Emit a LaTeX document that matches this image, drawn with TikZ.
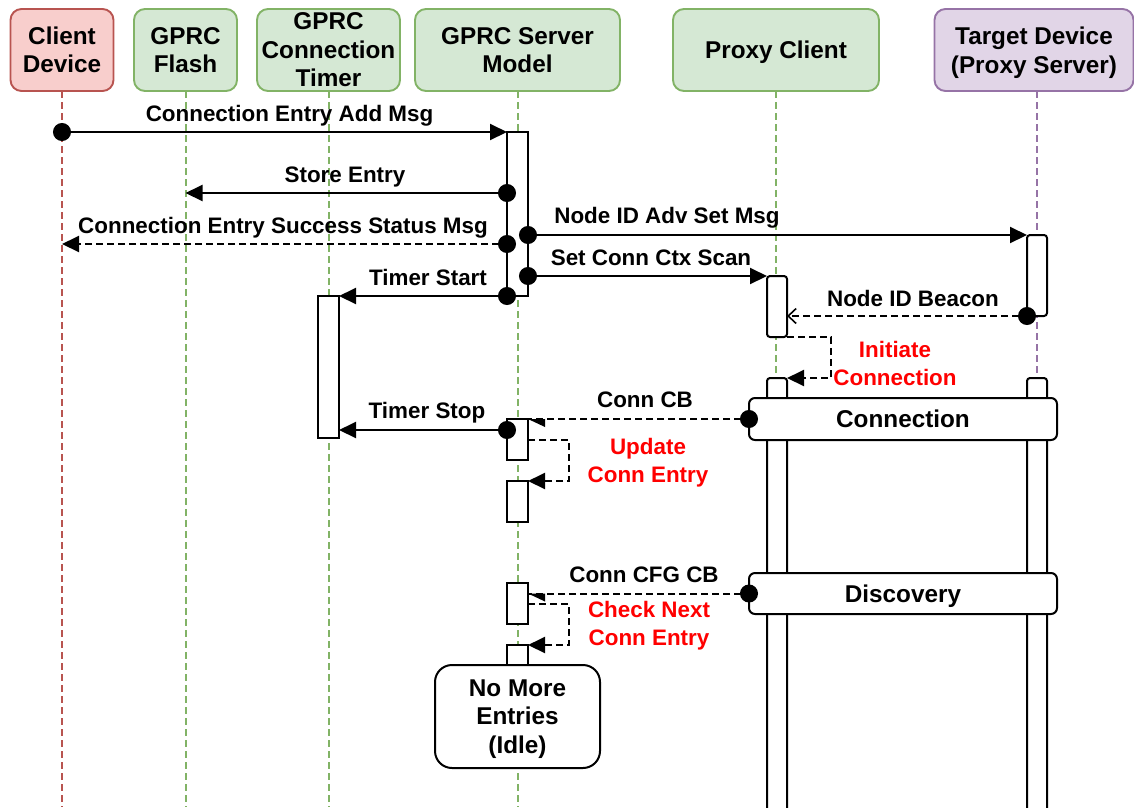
\documentclass[tikz,border=0pt]{standalone}
\usepackage{fontspec}
\setmainfont{Liberation Sans}
\usetikzlibrary{arrows.meta}
\definecolor{pinkf}{HTML}{F8CECC}
\definecolor{pinkd}{HTML}{B85450}
\definecolor{greenf}{HTML}{D5E8D4}
\definecolor{greend}{HTML}{82B366}
\definecolor{purf}{HTML}{E1D5E7}
\definecolor{purd}{HTML}{9673A6}
\definecolor{redtxt}{HTML}{FF0000}
\newcommand\hfnt{\fontsize{24.3pt}{28.6pt}\selectfont\bfseries}
\newcommand\mfnt{\fontsize{22.4pt}{27.4pt}\selectfont\bfseries}
\begin{document}
\begin{tikzpicture}[x=1pt,y=-1pt,
  hdr/.style={draw, line width=1.9pt, rounded corners=11pt, inner sep=0pt, outer sep=0pt, minimum height=82pt, align=center, font=\hfnt},
  life/.style={line width=2pt, dash pattern=on 6.5pt off 4.5pt},
  act/.style={draw, fill=white, line width=2pt, inner sep=0pt, outer sep=0pt, minimum width=21pt},
  ract/.style={act, rounded corners=3pt, minimum width=20pt},
  framebox/.style={draw, fill=white, line width=2pt, rounded corners=6pt, inner sep=0pt, outer sep=0pt, minimum width=308pt, minimum height=42pt, font=\hfnt, text height=17.7pt, text depth=0pt},
  idlebox/.style={draw, fill=white, line width=2pt, rounded corners=17pt, inner sep=0pt, outer sep=0pt, minimum width=165pt, minimum height=103pt, align=center, font=\hfnt},
  msgd/.style={line width=2pt, {Circle[length=18pt]}-{Triangle[length=17pt,width=16pt]}, shorten <=-9pt},
  msgdh/.style={line width=2pt, {Circle[length=18pt]}-, shorten <=-9pt},
  msgdo/.style={line width=2pt, {Circle[length=18pt]}-{Straight Barb[length=8pt,width=15pt,line width=1.6pt]}, shorten <=-9pt},
  selfmsg/.style={line width=2pt, -{Triangle[length=17pt,width=16pt]}},
  halftip/.style={fill=black},
  dsh/.style={dash pattern=on 7pt off 4pt},
  lbl/.style={font=\mfnt, anchor=base, inner sep=0pt},
  rlbl/.style={font=\mfnt, align=center, inner sep=0pt, text=redtxt}
]
\useasboundingbox (0,0) rectangle (1134,807);

% headers
\node[hdr, fill=pinkf, draw=pinkd, minimum width=103pt] (cd) at (62,50) {Client\\Device};
\node[hdr, fill=greenf, draw=greend, minimum width=103pt] (gf) at (185.5,50) {GPRC\\Flash};
\node[hdr, fill=greenf, draw=greend, minimum width=143pt] (gt) at (328.5,50) {GPRC\\Connection\\Timer};
\node[hdr, fill=greenf, draw=greend, minimum width=205pt] (gs) at (517.5,50) {GPRC Server\\Model};
\node[hdr, fill=greenf, draw=greend, minimum width=206pt, text depth=0pt] (pc) at (776,50) {Proxy Client};
\node[hdr, fill=purf, draw=purd, minimum width=199pt] (td) at (1034,50) {Target Device\\\smash{(Proxy Server)}};

% lifelines
\coordinate (tdl) at ([xshift=3pt]td.south);
\draw[life, draw=pinkd] (cd.south) -- (cd.south |- 0,807);
\draw[life, draw=greend] (gf.south) -- (gf.south |- 0,807);
\draw[life, draw=greend] (gt.south) -- (gt.south |- 0,807);
\draw[life, draw=greend] (gs.south) -- (gs.south |- 0,807);
\draw[life, draw=greend] (pc.south) -- (pc.south |- 0,807);
\draw[life, draw=purd] (tdl) -- (tdl |- 0,807);

% activations
\node[act, minimum height=164pt] (s1) at (517.5,214) {};
\node[act, minimum height=142pt] (t1) at (328.5,367) {};
\node[ract, minimum height=61pt] (p1) at (777,306.5) {};
\node[ract, minimum height=81pt] (d1) at (1037,275.5) {};
\node[ract, minimum height=460pt] (p2) at (777,608) {};
\node[ract, minimum height=460pt] (d2) at (1037,608) {};
\node[act, minimum height=41pt] (s2) at (517.5,439.5) {};
\node[act, minimum height=41pt] (s3) at (517.5,501.5) {};
\node[act, minimum height=41pt] (s4) at (517.5,603.5) {};
\node[act, minimum height=35pt] (s5) at (517.5,662.5) {};

% frames
\node[framebox] (conn) at (903,419) {Connection};
\node[framebox, minimum height=41pt] (disc) at (903,593.5) {Discovery};
\node[idlebox] (nm) at (517.5,716.5) {No More\\Entries\\\smash{(Idle)}};

% messages
\draw[msgd] (cd.south |- s1.north west) -- (s1.north west);
\draw[msgd] (s1.west |- 0,193) -- (gf.south |- 0,193);
\draw[msgd, dsh] (s1.west |- 0,244) -- (cd.south |- 0,244);
\draw[msgd] (s1.south west) -- (t1.north east);
\draw[msgd] (s1.east |- d1.north west) -- (d1.north west);
\draw[msgd] (s1.east |- p1.north west) -- (p1.north west);
\draw[msgdo, dsh] (d1.south west) -- (p1.east |- d1.south west);
\draw[selfmsg, dsh] (p1.south east) -- ++(44,0) |- (p2.north east);
\draw[msgdh, dsh] (conn.west) -- (s2.north east);
\fill[halftip] (s2.north east) -- ++(17,0) -- ++(0,8) -- cycle;
\draw[msgd] (s2.west |- 0,430) -- (t1.east |- 0,430);
\draw[selfmsg, dsh] (s2.east |- 0,440) -- ++(41,0) |- (s3.north east);
\coordinate (cfgend) at (s4.east |- disc.west);
\draw[msgdh, dsh] (disc.west) -- (cfgend);
\fill[halftip] (cfgend) -- ++(17,0) -- ++(0,8) -- cycle;
\draw[selfmsg, dsh] (s4.east |- 0,604) -- ++(41,0) |- (s5.north east);

% labels
\node[lbl] (l1) at (289.5,121) {Connection Entry Add Msg};
\node[lbl] (l2) at (345,182) {Store Entry};
\node[lbl] (l3) at (283,233) {Connection Entry Success Status Msg};
\node[lbl] (l4) at (428,285) {Timer Start};
\node[lbl] (l5) at (667,223) {Node ID Adv Set Msg};
\node[lbl] (l6) at (651,265) {Set Conn Ctx Scan};
\node[lbl] (l7) at (913,306) {Node ID Beacon};
\node[rlbl] (l8) at (895,363.5) {Initiate\\Connection};
\node[lbl] (l9) at (645,407) {Conn CB};
\node[lbl] (l10) at (427,418) {Timer Stop};
\node[rlbl] (l11) at (648,460.5) {Update\\\smash{Conn Entry}};
\node[lbl] (l12) at (644,582) {Conn CFG CB};
\node[rlbl] (l13) at (649,623.5) {Check Next\\\smash{Conn Entry}};
\end{tikzpicture}
\end{document}
